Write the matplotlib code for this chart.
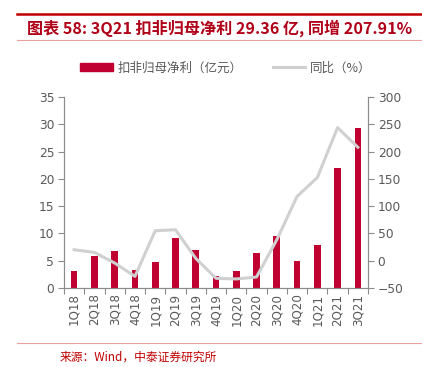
import matplotlib.pyplot as plt
from matplotlib.lines import Line2D
from matplotlib.patches import Patch

plt.rcParams['font.family'] = ['Noto Sans CJK SC', 'DejaVu Sans']

quarters = ['1Q18', '2Q18', '3Q18', '4Q18', '1Q19', '2Q19', '3Q19', '4Q19',
            '1Q20', '2Q20', '3Q20', '4Q20', '1Q21', '2Q21', '3Q21']
profit = [3.05, 5.8, 6.77, 3.35, 4.76, 9.15, 6.95, 2.2,
          3.17, 6.4, 9.5, 4.94, 7.93, 22.06, 29.36]
yoy = [20.1, 15.2, -4.3, -28.7, 54.9, 56.7, 4.3, -32.3,
       -33.5, -29.9, 38.4, 117.7, 152.4, 243.9, 207.91]

bar_color = '#C00030'
line_color = '#D0D0D0'
axis_color = '#8C8C8C'
text_color = '#595959'

fig = plt.figure(figsize=(4.22, 3.67), dpi=100)
ax = fig.add_axes([0.1517, 0.2153, 0.7203, 0.5204])
ax2 = ax.twinx()

x = list(range(len(quarters)))
ax.bar(x, profit, width=0.33, color=bar_color, zorder=2)
ax2.plot(x, yoy, color=line_color, lw=2.2, zorder=3)

ax.set_xlim(-0.5, len(quarters) - 0.5)
ax.set_ylim(0, 35)
ax.set_yticks(range(0, 36, 5))
ax2.set_ylim(-50, 300)
ax2.set_yticks(range(-50, 301, 50))

# x ticks at the category boundaries, labels at the centres
ax.set_xticks([i - 0.5 for i in range(len(quarters) + 1)])
ax.set_xticklabels([])
ax.set_xticks(x, minor=True)
ax.set_xticklabels(quarters, minor=True, rotation=90)
ax.tick_params(axis='x', which='minor', length=0, pad=4)
ax.tick_params(axis='x', which='major', length=4, color=axis_color)

for a in (ax, ax2):
    a.tick_params(axis='y', length=4, color=axis_color, labelsize=8.8,
                  labelcolor=text_color, pad=3)
    a.spines['top'].set_visible(False)
    for s in ('left', 'right', 'bottom'):
        a.spines[s].set_color(axis_color)
        a.spines[s].set_linewidth(0.8)
ax.tick_params(axis='x', which='both', labelsize=8.6, labelcolor=text_color)
for lab in ax.get_yticklabels() + ax2.get_yticklabels() + ax.get_xticklabels(minor=True):
    lab.set_family('DejaVu Sans')

# legend
handles = [Patch(color=bar_color), Line2D([0], [0], color=line_color, lw=2.2)]
fig.legend(handles, ['扣非归母净利（亿元）', '同比（%）'], loc='center',
           bbox_to_anchor=(0.535, 0.815), ncol=2, frameon=False, fontsize=9,
           labelcolor=text_color, handlelength=2.6, handleheight=0.6,
           columnspacing=2.4, handletextpad=0.4)

# title and rules
fig.add_artist(Line2D([0.04, 0.998], [1 - 14 / 367] * 2, color='#C00000', lw=1.8))
fig.add_artist(Line2D([0.04, 0.998], [1 - 40 / 367] * 2, color='#E8A0A0', lw=0.8))
fig.add_artist(Line2D([0.04, 0.998], [1 - 343 / 367] * 2, color='#E8A0A0', lw=0.8))
fig.text(0.064, 1 - 28 / 367, '图表 58: 3Q21 扣非归母净利 29.36 亿, 同增 207.91%',
         fontsize=11.6, fontweight='bold', fontstyle='italic', color='#B00018',
         va='center', ha='left')
fig.text(0.142, 1 - 357 / 367, '来源：Wind，中泰证券研究所', fontsize=8.5,
         color='#C00000', va='center', ha='left')

fig.savefig('out.png', dpi=100)
